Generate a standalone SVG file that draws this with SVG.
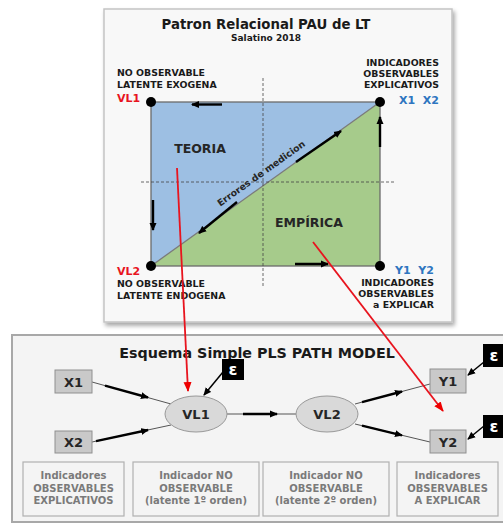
<svg xmlns="http://www.w3.org/2000/svg" width="503" height="526" viewBox="0 0 503 526">
<defs>
  <filter id="sh" x="-5%" y="-5%" width="115%" height="115%">
    <feDropShadow dx="2" dy="3" stdDeviation="2" flood-color="#000" flood-opacity="0.35"/>
  </filter>
  <marker id="ab" markerWidth="8" markerHeight="8" refX="7" refY="4" orient="auto" markerUnits="userSpaceOnUse">
    <path d="M0,0.5 L8,4 L0,7.5 Z" fill="#000"/>
  </marker>
  <marker id="ar" markerWidth="10" markerHeight="10" refX="9" refY="5" orient="auto" markerUnits="userSpaceOnUse">
    <path d="M0,1 L10,5 L0,9 Z" fill="#e00"/>
  </marker>
  <style>
    text{font-family:"DejaVu Sans","Verdana",sans-serif;font-weight:bold}
    .lbl{font-size:9.4px;fill:#1a1a1a}
    .red{font-size:11px;fill:#e8141e}
    .blue{font-size:11px;fill:#2e75c0}
    .node rect{fill:#c9c9c9;stroke:#8f8f8f;stroke-width:1}
    .node ellipse{fill:#d9d9d9;stroke:#999;stroke-width:1}
    .nt{font-size:13px;fill:#262626;text-anchor:middle}
    .eps rect{fill:#000}
    .eps text{font-size:16px;fill:#fff;text-anchor:middle}
    .thin{stroke:#555;stroke-width:1;fill:none}
    .thick{stroke:#000;stroke-width:2.4;fill:none;marker-end:url(#ab)}
    .earr{stroke:#000;stroke-width:1.5;fill:none;marker-end:url(#ab)}
    .redl{stroke:#e8141e;stroke-width:1.8;fill:none;marker-end:url(#ar)}
    .box rect{fill:#f4f4f4;stroke:#b0b0b0;stroke-width:1.2}
    .box text{font-size:10px;fill:#7a7a7a;text-anchor:middle}
    .dash{stroke:#444;stroke-width:0.8;stroke-dasharray:3,2;fill:none}
  </style>
</defs>
<rect width="503" height="526" fill="#fff"/>

<!-- top panel -->
<g id="panel-top">
  <rect x="104" y="9" width="348" height="313" fill="#f8f8f8" stroke="#c4c4c4" stroke-width="1.5" filter="url(#sh)"/>
  <text x="266" y="29" text-anchor="middle" font-size="13.3" fill="#1a1a1a">Patron Relacional PAU de LT</text>
  <text x="266" y="41" text-anchor="middle" font-size="9" fill="#1a1a1a">Salatino 2018</text>
  <polygon points="151,102 380,102 151,266" fill="#9dbfe3"/>
  <polygon points="380,102 380,266 151,266" fill="#a6cb8b"/>
  <rect x="151" y="102" width="229" height="164" fill="none" stroke="#6b6b6b" stroke-width="1.3"/>
  <line x1="151" y1="266" x2="380" y2="102" stroke="#7a7a7a" stroke-width="1.3"/>
  <line class="dash" x1="263" y1="78" x2="263" y2="286"/>
  <line class="dash" x1="141" y1="182" x2="394" y2="182"/>
  <text x="200" y="153" text-anchor="middle" font-size="12.5" fill="#262626">TEORIA</text>
  <text x="309" y="227" text-anchor="middle" font-size="12.5" fill="#262626">EMPÍRICA</text>
  <text transform="translate(263,176) rotate(-35.6)" text-anchor="middle" font-size="9.3" fill="#262626">Errores de medicion</text>
  <g class="arrows">
    <line class="thick" x1="222" y1="104.5" x2="192" y2="104.5"/>
    <line class="thick" x1="380" y1="147" x2="380" y2="117"/>
    <line class="thick" x1="153" y1="200" x2="153" y2="230"/>
    <line class="thick" x1="295" y1="264" x2="328" y2="264"/>
    <line class="thick" x1="296" y1="162" x2="341" y2="131"/>
    <line class="thick" x1="237" y1="202" x2="199" y2="233"/>
  </g>
  <circle cx="151" cy="102" r="5" fill="#000"/>
  <circle cx="380" cy="102" r="5" fill="#000"/>
  <circle cx="151" cy="266" r="5" fill="#000"/>
  <circle cx="380" cy="266" r="5" fill="#000"/>
  <text class="lbl" x="117" y="76">NO OBSERVABLE</text>
  <text class="lbl" x="117" y="88">LATENTE EXOGENA</text>
  <text class="red" x="117" y="102">VL1</text>
  <text class="lbl" x="439" y="66" text-anchor="end">INDICADORES</text>
  <text class="lbl" x="439" y="77" text-anchor="end">OBSERVABLES</text>
  <text class="lbl" x="439" y="88" text-anchor="end">EXPLICATIVOS</text>
  <text class="blue" x="439" y="104" text-anchor="end" xml:space="preserve">X1  X2</text>
  <text class="red" x="117" y="275">VL2</text>
  <text class="lbl" x="117" y="287">NO OBSERVABLE</text>
  <text class="lbl" x="117" y="299">LATENTE ENDOGENA</text>
  <text class="blue" x="434" y="274" text-anchor="end" xml:space="preserve">Y1  Y2</text>
  <text class="lbl" x="434" y="286" text-anchor="end">INDICADORES</text>
  <text class="lbl" x="434" y="297" text-anchor="end">OBSERVABLES</text>
  <text class="lbl" x="434" y="308" text-anchor="end">a EXPLICAR</text>
</g>

<!-- bottom panel -->
<g id="panel-bottom">
  <rect x="12" y="335" width="496" height="187" fill="#f4f4f4" stroke="#a8a8a8" stroke-width="2"/>
  <text x="257" y="358" text-anchor="middle" font-size="14.3" fill="#1a1a1a">Esquema Simple PLS PATH MODEL</text>
</g>

<g id="connectors">
  <line class="thin" x1="92" y1="382" x2="171" y2="404"/>
  <line class="thin" x1="92" y1="442" x2="171" y2="425"/>
  <line class="thin" x1="227" y1="414" x2="296" y2="414"/>
  <line class="thin" x1="355" y1="404" x2="430" y2="384"/>
  <line class="thin" x1="355" y1="424" x2="430" y2="442"/>
  <line class="thick" x1="105" y1="385.6" x2="148" y2="397.5"/>
  <line class="thick" x1="96" y1="441.1" x2="148" y2="430"/>
  <line class="thick" x1="243" y1="414" x2="277" y2="414"/>
  <line class="thick" x1="362" y1="402.1" x2="402" y2="391.5"/>
  <line class="thick" x1="362" y1="425.7" x2="402" y2="435.3"/>
  <line class="earr" x1="223" y1="372" x2="204" y2="395"/>
  <line class="earr" x1="484" y1="362" x2="468" y2="375"/>
  <line class="earr" x1="484" y1="426" x2="468" y2="439"/>
</g>

<g id="X1" class="node"><rect x="55" y="370" width="37" height="23"/><text class="nt" x="73.5" y="386.5">X1</text></g>
<g id="X2" class="node"><rect x="55" y="431" width="37" height="22"/><text class="nt" x="73.5" y="447">X2</text></g>
<g id="VL1" class="node"><ellipse cx="196" cy="414" rx="31" ry="18"/><text class="nt" x="196" y="419">VL1</text></g>
<g id="VL2" class="node"><ellipse cx="327" cy="414" rx="31" ry="18"/><text class="nt" x="327" y="419">VL2</text></g>
<g id="Y1" class="node"><rect x="430" y="369" width="36" height="24"/><text class="nt" x="448" y="386">Y1</text></g>
<g id="Y2" class="node"><rect x="430" y="430" width="36" height="23"/><text class="nt" x="448" y="446.5">Y2</text></g>

<g id="eps-VL1" class="eps"><rect x="222" y="359" width="22" height="21"/><text x="233" y="375">ε</text></g>
<g id="eps-Y1" class="eps"><rect x="483" y="344" width="22" height="23"/><text x="494" y="361">ε</text></g>
<g id="eps-Y2" class="eps"><rect x="483" y="415" width="22" height="23"/><text x="494" y="432">ε</text></g>

<g id="box1" class="box"><rect x="23" y="462" width="101" height="54"/>
  <text x="73.5" y="479">Indicadores</text><text x="73.5" y="492">OBSERVABLES</text><text x="73.5" y="504">EXPLICATIVOS</text></g>
<g id="box2" class="box"><rect x="133" y="462" width="126" height="54"/>
  <text x="196" y="479">Indicador NO</text><text x="196" y="492">OBSERVABLE</text><text x="196" y="504">(latente 1º orden)</text></g>
<g id="box3" class="box"><rect x="263" y="462" width="126" height="54"/>
  <text x="326" y="479">Indicador NO</text><text x="326" y="492">OBSERVABLE</text><text x="326" y="504">(latente 2º orden)</text></g>
<g id="box4" class="box"><rect x="397" y="462" width="101" height="54"/>
  <text x="447.5" y="479">Indicadores</text><text x="447.5" y="492">OBSERVABLES</text><text x="447.5" y="504">A EXPLICAR</text></g>

<g id="red-connectors">
  <line class="redl" x1="177" y1="168" x2="188" y2="391"/>
  <line class="redl" x1="313" y1="242" x2="443" y2="411"/>
</g>
</svg>
